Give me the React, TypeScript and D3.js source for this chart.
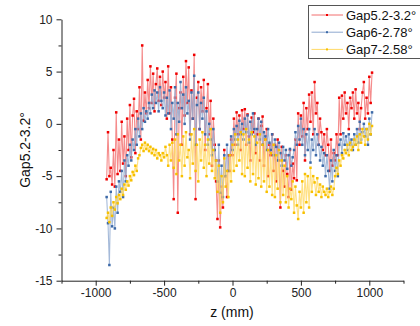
import React, { useRef, useEffect } from "react";
import * as d3 from "d3";

// z positions (mm)
const zVals = [
  -920, -910, -900, -890, -880, -870, -860, -850, -840, -830,
  -820, -810, -800, -790, -780, -770, -760, -750, -740, -730,
  -720, -710, -700, -690, -680, -670, -660, -650, -640, -630,
  -620, -610, -600, -590, -580, -570, -560, -550, -540, -530,
  -520, -510, -500, -490, -480, -470, -460, -450, -440, -430,
  -420, -410, -400, -390, -380, -370, -360, -350, -340, -330,
  -320, -310, -300, -290, -280, -270, -260, -250, -240, -230,
  -220, -210, -200, -190, -180, -170, -160, -150, -140, -130,
  -120, -110, -100, -90, -80, -70, -60, -50, -40, -30,
  -20, -10, 0, 10, 20, 30, 40, 50, 60, 70,
  80, 90, 100, 110, 120, 130, 140, 150, 160, 170,
  180, 190, 200, 210, 220, 230, 240, 250, 260, 270,
  280, 290, 300, 310, 320, 330, 340, 350, 360, 370,
  380, 390, 400, 410, 420, 430, 440, 450, 460, 470,
  480, 490, 500, 510, 520, 530, 540, 550, 560, 570,
  580, 590, 600, 610, 620, 630, 640, 650, 660, 670,
  680, 690, 700, 710, 720, 730, 740, 750, 760, 770,
  780, 790, 800, 810, 820, 830, 840, 850, 860, 870,
  880, 890, 900, 910, 920, 930, 940, 950, 960, 970,
  980, 990, 1000, 1010, 1020,
];

const gap5 = [
  -5.3, -0.8, -5.0, -4.2, -5.8, -2.5, -6.0, 1.1, -4.8, -1.5,
  -4.5, 0.2, -3.8, -1.2, -5.0, 0.5, -2.5, 1.8, -3.2, 0.8,
  2.4, -2.8, 1.2, -0.5, 3.5, -1.5, 7.5, 0.3, 3.0, 1.0,
  4.2, 1.5, 5.5, 2.0, 4.8, 1.2, 3.8, 5.3, 2.2, 4.5,
  1.8, 5.0, 2.5, 4.0, 0.5, 5.5, 1.0, 3.5, -1.5, -7.2,
  2.5, 4.8, -8.5, 1.5, 3.0, -2.0, 4.5, 0.8, 6.0, 2.0,
  5.4, -1.0, 3.2, 0.5, 6.6, -7.2, 2.5, 4.0, -0.5, 3.5,
  1.2, 4.2, -2.5, 1.5, 3.8, -1.0, 2.2, -4.0, 0.5, -2.0,
  -5.5, -9.1, -3.5, -9.9, -6.0, -8.0, -2.5, -5.0, -7.0, -3.0,
  -4.5, -1.5, -3.0, 0.5, -2.0, 1.1, -1.0, 0.8, -2.5, 1.3,
  -0.5, 1.4, -2.0, 0.9, -1.2, -3.5, 0.6, -0.8, 1.0, -2.8,
  -1.0, 0.5, -3.5, -0.2, 0.7, -4.0, -1.5, -0.5, -5.0, -2.0,
  -3.0, -1.0, -4.5, -2.0, -5.5, -1.5, -3.5, -8.0, -2.2, -4.5,
  -6.0, -3.0, -4.8, -7.0, -2.5, -6.3, -3.8, -5.2, -1.5, -5.4,
  1.0, -2.0, 0.8, -1.2, 2.0, -3.5, 1.5, -0.5, 2.8, 0.2,
  3.0, -1.0, 4.0, 1.0, 2.0, -2.0, 0.5, -0.8, -2.5, -1.0,
  -3.0, -0.5, -2.0, -4.5, -1.5, -4.0, -2.8, -3.5, -1.0, -3.0,
  2.5, -1.0, 2.7, 0.5, 3.0, 1.0, 2.0, -0.5, 2.5, 1.5,
  3.0, 0.5, 3.3, 1.0, 2.0, -0.5, 1.5, 3.0, 4.0, 0.5,
  2.5, 1.0, 4.5, 2.0, 4.9,
];

const gap6 = [
  -7.0, -9.5, -13.5, -6.5, -9.8, -8.0, -10.0, -6.0, -8.5, -5.5,
  -6.5, -4.5, -7.0, -3.5, -5.5, -3.0, -4.0, -2.0, -3.5, -1.5,
  -2.5, -0.5, -2.0, 0.5, -1.2, 1.0, -0.5, 1.5, 0.2, 1.2,
  0.5, 2.0, 1.0, 2.8, 1.5, 3.2, 2.0, 3.0, 1.2, 3.5,
  2.2, 1.5, 3.0, 0.8, 2.5, 1.0, 3.2, -0.5, 2.0, 0.5,
  3.5, -1.0, 2.0, 0.2, 4.0, 1.5, 2.8, 0.0, 3.5, 1.0,
  2.2, -1.5, 3.0, 0.5, 4.6, -2.0, 1.8, 3.0, -0.5, 2.0,
  0.5, 2.5, -1.0, 1.2, -2.0, 0.0, -1.5, -3.0, -0.5, -2.5,
  -3.5, -5.5, -2.0, -6.6, -4.0, -7.0, -3.0, -5.0, -2.0, -4.5,
  -3.0, -1.2, -2.5, -0.5, -1.5, -0.2, -2.0, 0.3, -1.0, 0.0,
  -1.5, 0.5, -0.8, 0.8, -1.8, 0.2, -1.0, 1.0, -0.5, -2.0,
  -0.5, 0.5, -1.5, 0.2, -2.0, -0.8, -1.2, -2.5, -0.5, -1.8,
  -2.5, -1.0, -3.0, -1.5, -2.2, -3.5, -1.8, -2.8, -4.0, -2.2,
  -3.5, -2.5, -4.3, -3.0, -2.4, -4.0, -3.2, -2.5, -0.8, -2.0,
  -0.2, -1.5, 0.5, -2.0, -0.5, -3.0, -1.0, -2.5, -0.5, -3.7,
  -1.5, -2.5, -0.5, -3.0, -1.0, -2.0, -3.5, -2.2, -4.0, -2.8,
  -5.0, -3.0, -4.5, -6.2, -3.5, -5.5, -2.5, -4.5, -3.0, -5.0,
  -2.0, -1.5, -2.8, -0.9, -2.0, -1.2, -2.5, -1.0, -2.0, -1.5,
  -2.5, -1.0, -2.0, -0.5, -1.8, 0.2, -1.5, -0.8, 0.0, -1.2,
  -0.5, -2.0, 0.5, -1.0, 1.1,
];

const gap7 = [
  -9.0, -8.5, -9.4, -8.0, -8.8, -7.5, -8.2, -7.0, -7.6, -6.8,
  -7.2, -6.2, -6.8, -5.8, -6.3, -5.5, -5.9, -5.0, -5.4, -4.6,
  -4.9, -4.0, -4.5, -3.3, -3.0, -2.3, -2.0, -2.6, -1.8, -2.4,
  -2.0, -2.6, -2.2, -2.8, -2.4, -3.0, -2.5, -3.3, -2.8, -3.0,
  -3.5, -2.8, -3.2, -2.2, -3.0, -4.0, -2.0, -3.5, -1.8, -4.2,
  -1.5, -4.8, -1.0, -3.5, -2.0, -5.0, -1.2, -4.0, -0.8, -3.2,
  -2.5, -5.2, -1.0, -3.8, -0.5, -4.5, -2.0, -5.5, -1.5, -3.5,
  -0.8, -4.2, -2.0, -5.0, -1.5, -3.8, -0.5, -4.5, -2.5, -5.2,
  -3.5, -6.5, -4.0, -8.5, -5.0, -7.5, -3.3, -6.0, -4.5, -7.0,
  -3.0, -5.5, -2.0, -4.5, -1.0, -4.0, -1.5, -3.5, -0.8, -4.8,
  -1.0, -5.0, -0.5, -4.2, -1.5, -5.5, -0.8, -4.8, -1.2, -5.8,
  -1.8, -5.2, -1.0, -6.0, -2.0, -5.5, -1.5, -6.5, -2.5, -6.0,
  -2.8, -6.8, -2.0, -7.0, -3.0, -6.2, -2.5, -7.5, -3.5, -6.8,
  -4.0, -7.5, -5.0, -8.0, -6.2, -7.2, -5.5, -8.5, -6.0, -7.8,
  -9.1, -6.5, -8.0, -5.5, -8.5, -4.8, -7.5, -5.0, -8.0, -4.2,
  -6.5, -5.0, -5.6, -6.8, -5.2, -6.5, -5.8, -7.0, -6.0, -6.5,
  -6.8, -6.2, -7.0, -6.5, -6.0, -6.8, -6.2, -5.0, -4.2, -4.8,
  -3.5, -4.0, -3.0, -3.3, -2.5, -2.8, -2.0, -3.0, -1.8, -2.5,
  -2.2, -1.5, -2.0, -1.2, -2.5, -1.0, -1.8, -0.5, -1.2, -2.0,
  -0.5, -1.5, 0.0, -1.0, -0.2,
];

const seriesNames = ["Gap5.2-3.2°", "Gap6-2.78°", "Gap7-2.58°"];
const markerColors = ["#f00000", "#3d6aa8", "#f7c000"];
const lineColors = ["#f26f6f", "#8fa9cf", "#ffd966"];

const xMajor = [-1000, -500, 0, 500, 1000];
const xMinor = [-1250, -750, -250, 250, 750, 1250];
const yMajor = [-15, -10, -5, 0, 5, 10];
const yMinor = [-12.5, -7.5, -2.5, 2.5, 7.5];

const FONT = "Arial, 'Liberation Sans', sans-serif";

export default function App() {
  const svgRef = useRef<SVGSVGElement>(null);

  useEffect(() => {
    if (!svgRef.current) return;
    const svg = d3.select(svgRef.current);
    svg.selectAll("*").remove();

    const xScale = d3.scaleLinear().domain([-1250, 1250]).range([61.5, 403.5]);
    const yScale = d3.scaleLinear().domain([-15, 10]).range([280.7, 19.3]);

    const allSeries = [gap5, gap6, gap7];

    // data: light connecting line + small square markers
    allSeries.forEach((vals, si) => {
      const pts = zVals.map((z, i) => [z, vals[i]] as [number, number]);
      const line = d3.line<[number, number]>()
        .x(d => xScale(d[0]))
        .y(d => yScale(d[1]));

      svg.append("path")
        .datum(pts)
        .attr("fill", "none")
        .attr("stroke", lineColors[si])
        .attr("stroke-opacity", 0.8)
        .attr("stroke-width", 1.1)
        .attr("d", line);

      svg.append("g")
        .selectAll("rect")
        .data(pts)
        .join("rect")
        .attr("x", d => xScale(d[0]) - 1.25)
        .attr("y", d => yScale(d[1]) - 1.25)
        .attr("width", 2.5)
        .attr("height", 2.5)
        .attr("fill", markerColors[si]);
    });

    // x axis
    const xAxisG = svg.append("g").attr("transform", `translate(0,${yScale(-15)})`);
    xAxisG.call(
      d3.axisBottom(xScale).tickValues(xMajor).tickSize(5).tickSizeOuter(0)
        .tickFormat(d => `${d}`)
    );
    xAxisG.append("g").call(
      d3.axisBottom(xScale).tickValues(xMinor).tickSize(3).tickSizeOuter(0).tickFormat(() => "")
    ).select(".domain").remove();
    xAxisG.selectAll("text")
      .style("font-family", FONT)
      .style("font-size", "12px")
      .style("fill", "#222")
      .attr("dy", "0.72em")
      .attr("y", 8);
    xAxisG.selectAll("line, path").style("stroke", "#222");

    // y axis
    const yAxisG = svg.append("g").attr("transform", `translate(${xScale(-1250)},0)`);
    yAxisG.call(
      d3.axisLeft(yScale).tickValues(yMajor).tickSize(5).tickSizeOuter(0)
        .tickFormat(d => `${d}`)
    );
    yAxisG.append("g").call(
      d3.axisLeft(yScale).tickValues(yMinor).tickSize(3).tickSizeOuter(0).tickFormat(() => "")
    ).select(".domain").remove();
    yAxisG.selectAll("text")
      .style("font-family", FONT)
      .style("font-size", "12px")
      .style("fill", "#222")
      .attr("x", -9);
    yAxisG.selectAll("line, path").style("stroke", "#222");

    // axis titles
    svg.append("text")
      .attr("x", 232)
      .attr("y", 317)
      .attr("text-anchor", "middle")
      .style("font-family", FONT)
      .style("font-size", "14px")
      .style("fill", "#111")
      .text("z (mm)");

    svg.append("text")
      .attr("transform", `translate(30,150) rotate(-90)`)
      .attr("text-anchor", "middle")
      .style("font-family", FONT)
      .style("font-size", "14px")
      .style("fill", "#111")
      .text(seriesNames[0]);

    // legend
    const legend = svg.append("g");
    legend.append("rect")
      .attr("x", 308.5)
      .attr("y", 5.5)
      .attr("width", 130)
      .attr("height", 53)
      .attr("fill", "#fff")
      .attr("stroke", "#555")
      .attr("stroke-width", 1);

    seriesNames.forEach((name, i) => {
      const ly = 15 + i * 17.2;
      legend.append("line")
        .attr("x1", 311.5)
        .attr("x2", 343)
        .attr("y1", ly)
        .attr("y2", ly)
        .attr("stroke", lineColors[i])
        .attr("stroke-width", 1);
      legend.append("rect")
        .attr("x", 326)
        .attr("y", ly - 1)
        .attr("width", 2)
        .attr("height", 2)
        .attr("fill", markerColors[i]);
      legend.append("text")
        .attr("x", 346)
        .attr("y", ly + 5)
        .style("font-family", FONT)
        .style("font-size", "13px")
        .style("fill", "#111")
        .text(name);
    });
  }, []);

  return (
    <svg
      ref={svgRef}
      width={420}
      height={326}
      style={{ position: "absolute", left: 0, top: 0, background: "#fff" }}
    />
  );
}
